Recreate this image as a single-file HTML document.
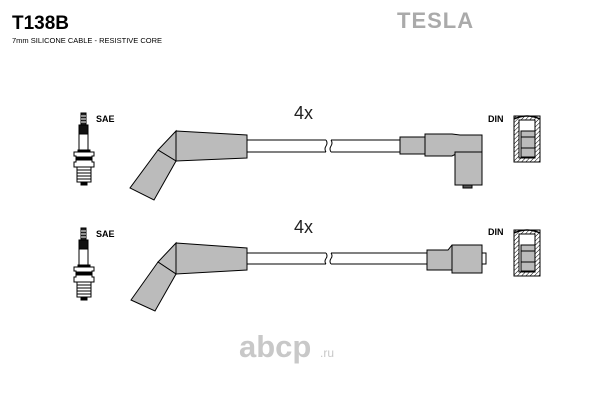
<!DOCTYPE html>
<html><head><meta charset="utf-8"><style>
html,body{margin:0;padding:0;background:#fff;}
svg{display:block;}
text{font-family:"Liberation Sans",sans-serif;}
</style></head><body>
<svg width="600" height="400" viewBox="0 0 600 400" xmlns="http://www.w3.org/2000/svg">
<defs>
<pattern id="h" width="3" height="3" patternUnits="userSpaceOnUse" patternTransform="rotate(45)">
<rect width="3" height="3" fill="#fff"/><line x1="0" y1="0" x2="0" y2="3" stroke="#000" stroke-width="1"/>
</pattern>
<g id="plug" stroke="#000" stroke-width="1">
<rect x="81" y="113" width="5" height="12" fill="#222"/>
<line x1="81" y1="116" x2="86" y2="116" stroke="#fff"/>
<line x1="81" y1="119" x2="86" y2="119" stroke="#fff"/>
<line x1="81" y1="122" x2="86" y2="122" stroke="#fff"/>
<rect x="79" y="125" width="9" height="9" fill="#111"/>
<rect x="79" y="134" width="9" height="16" fill="#fff"/>
<path d="M74 152 H94 V156 H92 V162 H94 V167 H74 V162 H76 V156 H74 Z" fill="#fff"/>
<rect x="78" y="150" width="12" height="2" fill="#000"/>
<rect x="77" y="157" width="14" height="3" fill="#000"/>
<rect x="77" y="167" width="14" height="15" fill="#fff"/>
<line x1="77" y1="170" x2="91" y2="170"/><line x1="77" y1="173" x2="91" y2="173"/>
<line x1="77" y1="176" x2="91" y2="176"/><line x1="77" y1="179" x2="91" y2="179"/>
<rect x="81" y="182" width="6" height="3" fill="#000"/>
</g>
<g id="din" stroke="#000" stroke-width="1">
<rect x="514" y="116" width="26" height="46" fill="url(#h)"/>
<rect x="519" y="120" width="16" height="38" fill="#fff"/>
<path d="M514 119 Q527 113 540 119" fill="none" stroke-width="1.5"/>
<rect x="521" y="131" width="14" height="26" fill="#bbb"/>
<line x1="521" y1="137" x2="535" y2="137"/>
<line x1="521" y1="148" x2="535" y2="148"/>
</g>
</defs>

<text x="12" y="29" font-size="19" font-weight="bold">T138B</text>
<text x="12" y="43" font-size="7.5">7mm SILICONE CABLE -  RESISTIVE CORE</text>
<text x="397" y="28" font-size="22" font-weight="bold" fill="#aaa" font-family="Liberation Serif" letter-spacing="1">TESLA</text>

<!-- TOP ROW -->
<use href="#plug"/>
<text x="96" y="122" font-size="9" font-weight="bold">SAE</text>
<text x="294" y="119" font-size="18" fill="#222">4x</text>
<g stroke="#000" stroke-width="1">
<line x1="247" y1="140" x2="326" y2="140"/><line x1="247" y1="152" x2="326" y2="152"/>
<line x1="331" y1="140" x2="400" y2="140"/><line x1="331" y1="152" x2="400" y2="152"/>
<path d="M326 140 q2 3 0 6 q-2 3 0 6 M331 140 q2 3 0 6 q-2 3 0 6" fill="none"/>
<path d="M176 131 L247 135 L247 158 L176 161 Z" fill="#bbb"/>
<path d="M176 131 L158 150 L176 161 Z" fill="#bbb"/>
<path d="M158 150 L176 161 L154 200 L130 188 Z" fill="#bbb"/>
<rect x="400" y="137" width="25" height="17" fill="#bbb"/>
<path d="M425 134 H452 L460 135 H482 V152 H460 L452 156 H425 Z" fill="#bbb"/>
<path d="M455 152 H482 V185 H455 Z" fill="#bbb"/>
<rect x="463" y="185" width="9" height="3" fill="#555"/>
</g>
<text x="488" y="122" font-size="9" font-weight="bold">DIN</text>
<use href="#din"/>

<!-- BOTTOM ROW -->
<use href="#plug" transform="translate(0,115)"/>
<text x="96" y="237" font-size="9" font-weight="bold">SAE</text>
<text x="294" y="233" font-size="18" fill="#222">4x</text>
<g stroke="#000" stroke-width="1">
<line x1="247" y1="253" x2="326" y2="253"/><line x1="247" y1="264" x2="326" y2="264"/>
<line x1="331" y1="253" x2="427" y2="253"/><line x1="331" y1="264" x2="427" y2="264"/>
<path d="M326 253 q2 3 0 5.5 q-2 3 0 5.5 M331 253 q2 3 0 5.5 q-2 3 0 5.5" fill="none"/>
<path d="M176 243 L247 248 L247 270 L176 274 Z" fill="#bbb"/>
<path d="M176 243 L158 262 L176 274 Z" fill="#bbb"/>
<path d="M158 262 L176 274 L155 311 L131 300 Z" fill="#bbb"/>
<path d="M427 250 H448 L452 245 H482 V273 H452 V270 H427 Z" fill="#bbb"/>
<line x1="452" y1="245" x2="452" y2="273"/>
<rect x="482" y="253" width="4" height="11" fill="#fff"/>
</g>
<text x="488" y="235" font-size="9" font-weight="bold">DIN</text>
<use href="#din" transform="translate(0,114)"/>

<text x="239" y="357" font-size="31" font-weight="bold" fill="#c8c8c8">abcp</text>
<text x="320" y="357" font-size="12" fill="#c8c8c8">.ru</text>
</svg>
</body></html>
